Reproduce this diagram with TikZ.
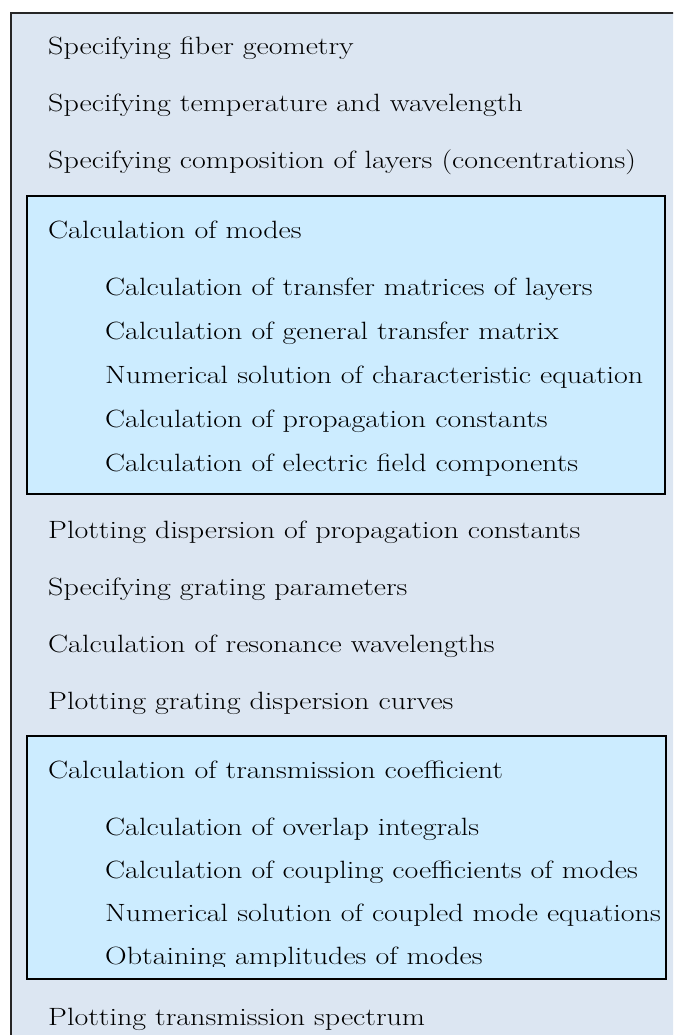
\documentclass[tikz,border=0pt]{standalone}
\newcommand{\wide}[1]{\scalebox{1.2}[1]{#1}}
\begin{document}
\begin{tikzpicture}[x=1pt,y=-1pt,
  outerbox/.style={draw=black!85,line width=1.5pt,fill=outerfill},
  innerbox/.style={draw=black,line width=1.3pt,fill=innerfill},
  lbl/.style={anchor=base west,inner sep=0pt,font=\fontsize{25}{28}\selectfont,text=black}]
\definecolor{outerfill}{HTML}{DCE6F2}
\definecolor{innerfill}{HTML}{CCECFF}
\useasboundingbox (0,0) rectangle (673,1035);
\clip (0,0) rectangle (673,1035);
\draw[outerbox] (11,13) rectangle (700,1060);
\node[lbl] (t1) at (48,55) {\wide{Specifying fiber geometry}};
\node[lbl] (t2) at (48,112) {\wide{Specifying temperature and wavelength}};
\node[lbl] (t3) at (48,169) {\wide{Specifying composition of layers (concentrations)}};
% box 1
\draw[innerbox] (27,196) rectangle (665,494);
\node[lbl] (m0) at (48,238) {\wide{Calculation of modes}};
\node[lbl] (m1) at (105,295) {\wide{Calculation of transfer matrices of layers}};
\node[lbl] (m2) at (105,339) {\wide{Calculation of general transfer matrix}};
\node[lbl] (m3) at (105,383) {\wide{Numerical solution of characteristic equation}};
\node[lbl] (m4) at (105,427) {\wide{Calculation of propagation constants}};
\node[lbl] (m5) at (105,471) {\wide{Calculation of electric field components}};
\node[lbl] (t4) at (48,538) {\wide{Plotting dispersion of propagation constants}};
\node[lbl] (t5) at (48,595) {\wide{Specifying grating parameters}};
\node[lbl] (t6) at (48,652) {\wide{Calculation of resonance wavelengths}};
\node[lbl] (t7) at (48,709) {\wide{Plotting grating dispersion curves}};
% box 2
\draw[innerbox] (27,736) rectangle (666,979);
\begin{scope}
\clip (27,736) rectangle (666,966);
\node[lbl] (c0) at (48,778) {\wide{Calculation of transmission coefficient}};
\node[lbl] (c1) at (105,835) {\wide{Calculation of overlap integrals}};
\node[lbl] (c2) at (105,878) {\wide{Calculation of coupling coefficients of modes}};
\node[lbl] (c3) at (105,921) {\wide{Numerical solution of coupled mode equations}};
\node[lbl] (c4) at (105,964) {\wide{Obtaining amplitudes of modes}};
\end{scope}
\node[lbl] (t8) at (48,1025) {\wide{Plotting transmission spectrum}};
\end{tikzpicture}
\end{document}
